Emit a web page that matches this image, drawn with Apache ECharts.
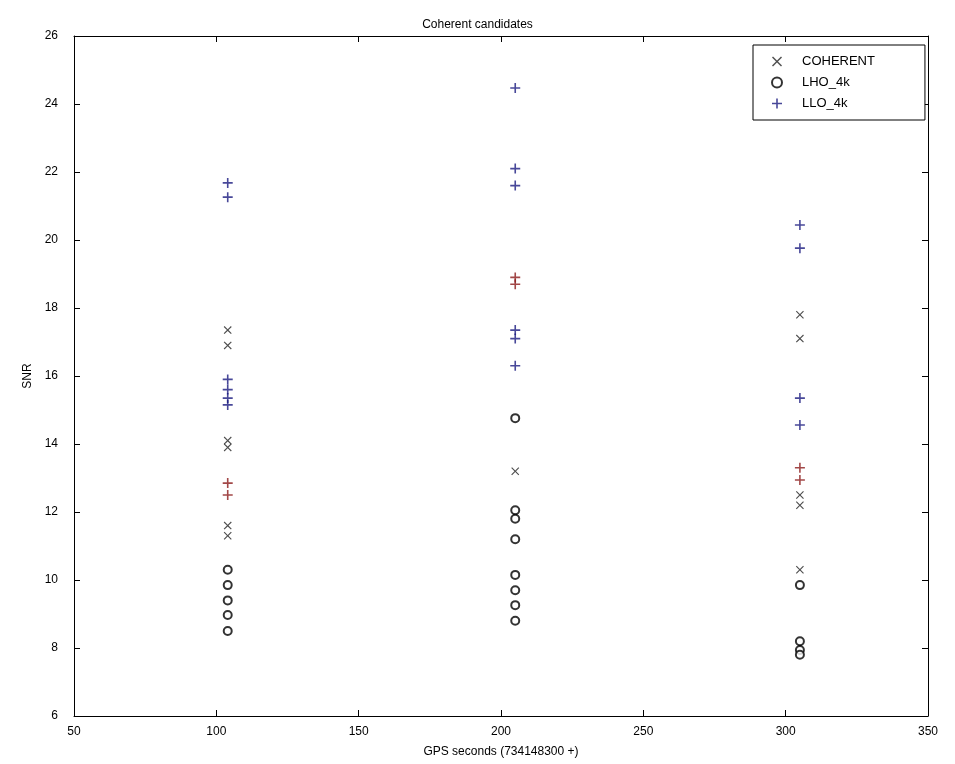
<!DOCTYPE html>
<html><head><meta charset="utf-8">
<script src="https://cdn.jsdelivr.net/npm/echarts@6/dist/echarts.min.js"></script>
<style>html,body{margin:0;padding:0;background:#fff}#c{width:955px;height:764px}</style>
</head><body><div id="c"></div>
<script>
const xTicks = [50, 100, 150, 200, 250, 300, 350];
const yTicks = [6, 8, 10, 12, 14, 16, 18, 20, 22, 24, 26];
// COHERENT ('x')
const coherentX = [104,104,104,104,104,104,205,305,305,305,305,305];
const coherentY = [17.35,16.9,14.1,13.9,11.6,11.3,13.2,17.8,17.1,12.5,12.2,10.3];
// LHO_4k ('o')
const lhoX = [104,104,104,104,104,205,205,205,205,205,205,205,205,305,305,305,305];
const lhoY = [10.3,9.85,9.4,8.97,8.5,14.76,12.05,11.8,11.2,10.15,9.7,9.26,8.8,9.85,8.2,7.94,7.8];
// LLO_4k ('+')
const lloX = [104,104,104,104,104,104,205,205,205,205,205,205,305,305,305,305];
const lloY = [21.68,21.26,15.9,15.6,15.35,15.15,24.47,22.1,21.6,17.35,17.1,16.3,20.44,19.76,15.35,14.56];
// red markers
const redX = [104,104,205,205,305,305];
const redY = [12.85,12.5,18.9,18.7,13.3,12.94];

const pair = (xs, ys) => xs.map((x, i) => [x, ys[i]]);
const plusPath = 'path://M4.2,0H5.8V4.2H10V5.8H5.8V10H4.2V5.8H0V4.2H4.2Z';
const crossPath = 'path://M0,1L1,0L5,4L9,0L10,1L6,5L10,9L9,10L5,6L1,10L0,9L4,5Z';

const chart = echarts.init(document.getElementById('c'));
const axisCommon = {
  axisLine: {show: true, lineStyle: {color: '#000', width: 1}},
  axisTick: {show: true, inside: true, length: 6, lineStyle: {color: '#000'}},
  splitLine: {show: false}
};
chart.setOption({
  animation: false,
  backgroundColor: '#fff',
  textStyle: {fontFamily: 'Liberation Sans, Arial, sans-serif'},
  title: {text: 'Coherent candidates', left: 'center', top: 14,
    textStyle: {fontSize: 12, fontWeight: 'normal', color: '#000'}},
  grid: {left: 74, right: 27, top: 36, bottom: 48},
  legend: {
    data: ['COHERENT', 'LHO_4k', 'LLO_4k'],
    orient: 'vertical', left: 753, top: 45,
    padding: [10, 50, 10, 18], itemGap: 8, itemWidth: 12, itemHeight: 10,
    backgroundColor: '#fff', borderColor: '#000', borderWidth: 1, borderRadius: 0,
    textStyle: {fontSize: 13, color: '#000', padding: [0, 0, 0, 14]}
  },
  xAxis: [
    Object.assign({type: 'value', min: 50, max: 350, interval: 50, position: 'bottom',
      name: 'GPS seconds (734148300 +)', nameLocation: 'middle', nameGap: 30,
      nameTextStyle: {fontSize: 12, color: '#000'},
      axisLabel: {fontSize: 12, color: '#000', margin: 10}}, axisCommon),
    Object.assign({type: 'value', min: 50, max: 350, interval: 50, position: 'top',
      axisLabel: {show: false}}, axisCommon)
  ],
  yAxis: [
    Object.assign({type: 'value', min: 6, max: 26, interval: 2, position: 'left',
      name: 'SNR', nameLocation: 'middle', nameGap: 40,
      nameTextStyle: {fontSize: 12, color: '#000'},
      axisLabel: {fontSize: 12, color: '#000', margin: 16}}, axisCommon),
    Object.assign({type: 'value', min: 6, max: 26, interval: 2, position: 'right',
      axisLabel: {show: false}}, axisCommon)
  ],
  series: [
    {name: 'COHERENT', type: 'scatter', data: pair(coherentX, coherentY),
      symbol: crossPath, symbolSize: 8, itemStyle: {color: '#222'}},
    {name: 'LHO_4k', type: 'scatter', data: pair(lhoX, lhoY),
      symbol: 'emptyCircle', symbolSize: 8, itemStyle: {color: '#000', borderWidth: 1.3}},
    {name: 'LLO_4k', type: 'scatter', data: pair(lloX, lloY),
      symbol: plusPath, symbolSize: 10, itemStyle: {color: '#1a1a80'}},
    {name: 'red', type: 'scatter', data: pair(redX, redY),
      symbol: plusPath, symbolSize: 10, itemStyle: {color: '#8b1a1a'}}
  ]
});
</script></body></html>
